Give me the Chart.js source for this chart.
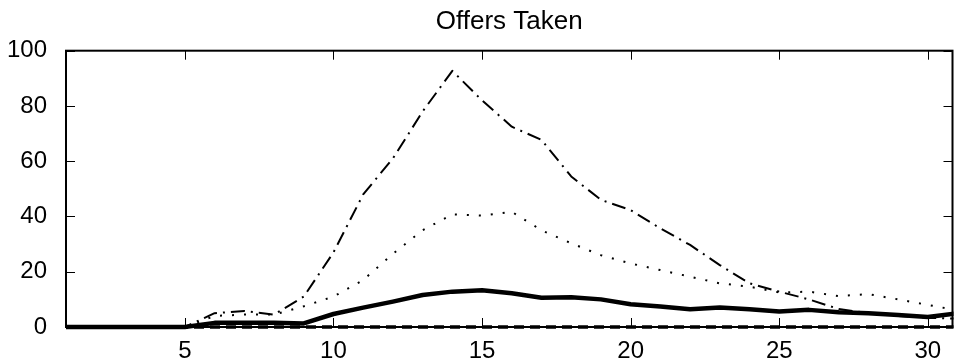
<!DOCTYPE html>
<html>
<head>
<meta charset="utf-8">
<script src="https://cdn.jsdelivr.net/npm/chart.js@4/dist/chart.umd.min.js"></script>
<style>
  html, body { margin: 0; padding: 0; background: #fff; }
  canvas { display: block; }
</style>
</head>
<body>
<canvas id="offersChart" width="954" height="362"></canvas>
<script>
// day index along the x axis
const days = [1, 2, 3, 4, 5, 6, 7, 8, 9, 10, 11, 12, 13, 14, 15, 16,
              17, 18, 19, 20, 21, 22, 23, 24, 25, 26, 27, 28, 29, 30, 31];

// series
const dashDotSeries = [0, 0, 0, 0, 0, 5, 5.8, 4.5, 11, 27, 48, 61, 78, 92.7, 82,
                       72.5, 67.7, 54.5, 46, 42.3, 35.7, 29.7, 22.4, 15.8, 12.8,
                       10, 6.5, 5, 4, 3.3, 3];
const dottedSeries = [0, 0, 0, 0, 0, 4, 4.5, 4.5, 7.5, 11, 17, 26.5, 35, 40.8, 40.3,
                      41.7, 35, 30.3, 26, 23, 20.6, 18.2, 15.8, 14.6, 12.5,
                      12.8, 11.2, 11.9, 10, 8, 6];
const solidSeries = [0, 0, 0, 0, 0, 1.5, 1.5, 1.5, 1.3, 4.7, 7, 9.2, 11.6, 12.8, 13.3,
                     12.2, 10.6, 10.8, 10, 8.2, 7.4, 6.4, 7.1, 6.4, 5.6,
                     6.2, 5.3, 5, 4.3, 3.6, 5];
const dashedSeries = [0, 0, 0, 0, 0, 0, 0, 0, 0, 0, 0, 0, 0, 0, 0, 0,
                      0, 0, 0, 0, 0, 0, 0, 0, 0, 0, 0, 0, 0, 0, 0];

const xTicks = [5, 10, 15, 20, 25, 30];
const yTicks = [0, 20, 40, 60, 80, 100];

const FONT = 'Liberation Sans, Arial, Helvetica, sans-serif';

function toPoints(vals) {
    return days.map((d, i) => ({ x: d, y: vals[i] }));
}

// matlab style box with inward ticks, drawn under the lines
const boxPlugin = {
    id: 'box',
    beforeDatasetsDraw(chart) {
        const { ctx, chartArea: a, scales } = chart;
        ctx.save();
        ctx.strokeStyle = '#000';
        ctx.lineWidth = 1;
        const tl = 9;
        xTicks.forEach(v => {
            const px = Math.round(scales.x.getPixelForValue(v)) + 0.5;
            ctx.beginPath();
            ctx.moveTo(px, a.bottom); ctx.lineTo(px, a.bottom - tl);
            ctx.moveTo(px, a.top); ctx.lineTo(px, a.top + tl);
            ctx.stroke();
        });
        yTicks.forEach(v => {
            const py = Math.round(scales.y.getPixelForValue(v)) + 0.5;
            ctx.beginPath();
            ctx.moveTo(a.left, py); ctx.lineTo(a.left + tl, py);
            ctx.moveTo(a.right, py); ctx.lineTo(a.right - tl, py);
            ctx.stroke();
        });
        ctx.lineWidth = 2;
        ctx.strokeRect(a.left, a.top, a.right - a.left, a.bottom - a.top);
        ctx.restore();
    }
};

const clipBox = { left: 5, top: 5, right: 1, bottom: 5 };

new Chart(document.getElementById('offersChart'), {
    type: 'line',
    data: {
        datasets: [
            {
                data: toPoints(dashedSeries),
                borderColor: '#000',
                borderWidth: 3.5,
                borderDash: [10, 6],
                clip: clipBox
            },
            {
                data: toPoints(solidSeries),
                borderColor: '#000',
                borderWidth: 4.5,
                clip: clipBox
            },
            {
                data: toPoints(dottedSeries),
                borderColor: '#000',
                borderWidth: 2,
                borderDash: [2, 10],
                clip: clipBox
            },
            {
                data: toPoints(dashDotSeries),
                borderColor: '#000',
                borderWidth: 2,
                borderDash: [14, 6, 2, 6],
                clip: clipBox
            }
        ]
    },
    options: {
        responsive: false,
        animation: false,
        layout: { padding: { left: 0, right: 1.5, top: 0, bottom: 0 } },
        elements: {
            point: { radius: 0 },
            line: { tension: 0, borderCapStyle: 'butt', borderJoinStyle: 'round' }
        },
        plugins: {
            legend: { display: false },
            tooltip: { enabled: false },
            title: {
                display: true,
                fullSize: false,
                text: 'Offers Taken',
                color: '#000',
                font: { family: FONT, size: 26, weight: 'normal' },
                padding: { top: 6, bottom: 13.5 }
            }
        },
        scales: {
            x: {
                type: 'linear',
                min: 1,
                max: 30.83,
                grid: { display: false },
                border: { display: false },
                afterBuildTicks: s => { s.ticks = xTicks.map(v => ({ value: v })); },
                afterFit: s => { s.height = 35; },
                ticks: {
                    color: '#000',
                    font: { family: FONT, size: 24 },
                    padding: 2,
                    maxRotation: 0,
                    autoSkip: false
                }
            },
            y: {
                min: 0,
                max: 100,
                grid: { display: false },
                border: { display: false },
                afterBuildTicks: s => { s.ticks = yTicks.map(v => ({ value: v })); },
                afterFit: s => { s.width = 66; },
                ticks: {
                    color: '#000',
                    font: { family: FONT, size: 24 },
                    padding: 11
                }
            }
        }
    },
    plugins: [boxPlugin]
});
</script>
</body>
</html>
